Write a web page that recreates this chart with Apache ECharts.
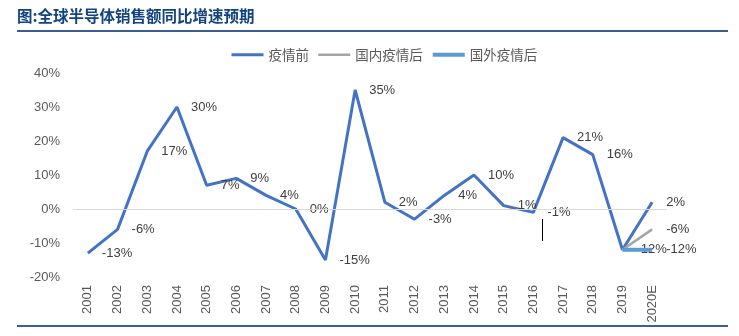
<!DOCTYPE html>
<html>
<head>
<meta charset="utf-8">
<style>
  html, body { margin: 0; padding: 0; background: #fff; }
  #chart { width: 739px; height: 336px; }
</style>
<script src="https://cdn.jsdelivr.net/npm/echarts@6/dist/echarts.min.js"></script>
</head>
<body>
<div id="chart"></div>
<script>
// Years on the category axis
const years = ['2001','2002','2003','2004','2005','2006','2007','2008','2009','2010',
               '2011','2012','2013','2014','2015','2016','2017','2018','2019','2020E'];

// Year-on-year growth of global semiconductor sales (%)
const beforeEpidemic = [-13, -6, 17, 30, 7, 9, 4, 0, -15, 35, 2, -3, 4, 10, 1, -1, 21, 16, -12, 2];
const domesticAfter  = [null, null, null, null, null, null, null, null, null, null,
                        null, null, null, null, null, null, null, null, -12, -6];
const overseasAfter  = [null, null, null, null, null, null, null, null, null, null,
                        null, null, null, null, null, null, null, null, -12, -12];

// Value axis ticks (%)
const yMin = -20, yMax = 40, yStep = 10;

const seriesNames = ['疫情前', '国内疫情后', '国外疫情后'];
const lineColors  = ['#4472C4', '#A5A5A5', '#5B9BD5'];
const lineWidths  = [3, 2.5, 4];

const chart = echarts.init(document.getElementById('chart'), null, { renderer: 'canvas' });

const labelFont = {
  fontFamily: 'Liberation Sans, Arial, sans-serif',
  fontSize: 13,
  color: '#404040'
};

// value labels sit to the right of each point; earlier points can be left blank
function pctLabel(showIndexFrom) {
  return {
    show: true,
    position: 'right',
    distance: 13,
    ...labelFont,
    formatter: p => (p.dataIndex >= showIndexFrom && p.value != null) ? p.value + '%' : ''
  };
}

// invisible point markers so the labels still render
const hiddenPoint = { color: 'rgba(0,0,0,0)', borderWidth: 0 };

function lineSeries(i, data, labelFrom, extra) {
  return Object.assign({
    name: seriesNames[i],
    type: 'line',
    data: data,
    symbol: 'circle',
    symbolSize: 2,
    showSymbol: true,
    lineStyle: { color: lineColors[i], width: lineWidths[i] },
    itemStyle: hiddenPoint,
    label: pctLabel(labelFrom),
    z: 2 + i
  }, extra || {});
}

chart.setOption({
  animation: false,
  backgroundColor: '#ffffff',
  title: {
    text: '图:全球半导体销售额同比增速预期',
    left: 17,
    top: 8,
    padding: 0,
    textStyle: {
      fontFamily: '"Noto Sans CJK SC", sans-serif',
      fontSize: 15.5,
      fontWeight: 'bold',
      color: '#12427F'
    }
  },
  legend: {
    data: seriesNames.map((name, i) => ({
      name: name,
      lineStyle: { color: lineColors[i], width: lineWidths[i] }
    })),
    top: 43,
    left: 225,
    itemWidth: 32,
    itemHeight: 14,
    itemGap: 8,
    textStyle: {
      fontFamily: '"Noto Sans CJK SC", sans-serif',
      fontSize: 13.5,
      color: '#595959'
    }
  },
  grid: {
    left: 73,
    right: 72,
    top: 73,
    bottom: 59,
    containLabel: false
  },
  xAxis: {
    type: 'category',
    data: years,
    boundaryGap: true,
    axisLine: { show: false },
    axisTick: { show: false },
    splitLine: { show: false },
    axisLabel: {
      rotate: 90,
      margin: 8,
      interval: 0,
      fontFamily: 'Liberation Sans, Arial, sans-serif',
      fontSize: 13,
      color: '#595959'
    }
  },
  yAxis: {
    type: 'value',
    min: yMin,
    max: yMax,
    interval: yStep,
    axisLine: { show: false },
    axisTick: { show: false },
    splitLine: { show: false },
    axisLabel: {
      formatter: '{value}%',
      margin: 13,
      fontFamily: 'Liberation Sans, Arial, sans-serif',
      fontSize: 13,
      color: '#595959'
    }
  },
  series: [
    lineSeries(0, beforeEpidemic, 0, {
      markLine: {
        silent: true,
        symbol: 'none',
        label: { show: false },
        lineStyle: { color: '#D9D9D9', width: 1, type: 'solid' },
        data: [{ yAxis: 0 }]
      }
    }),
    lineSeries(1, domesticAfter, 19),
    lineSeries(2, overseasAfter, 19)
  ],
  graphic: [
    // rule under the heading
    {
      type: 'rect',
      shape: { x: 17, y: 30, width: 711, height: 2 },
      style: { fill: '#3A5F8F' },
      silent: true
    },
    // rule along the bottom edge
    {
      type: 'rect',
      shape: { x: 17, y: 325, width: 711, height: 2 },
      style: { fill: '#3A5F8F' },
      silent: true
    },
    // short stray stroke below the 2016 label
    {
      type: 'line',
      shape: { x1: 542.5, y1: 219, x2: 542.5, y2: 241 },
      style: { stroke: '#000000', lineWidth: 1 },
      silent: true
    }
  ]
});
</script>
</body>
</html>
